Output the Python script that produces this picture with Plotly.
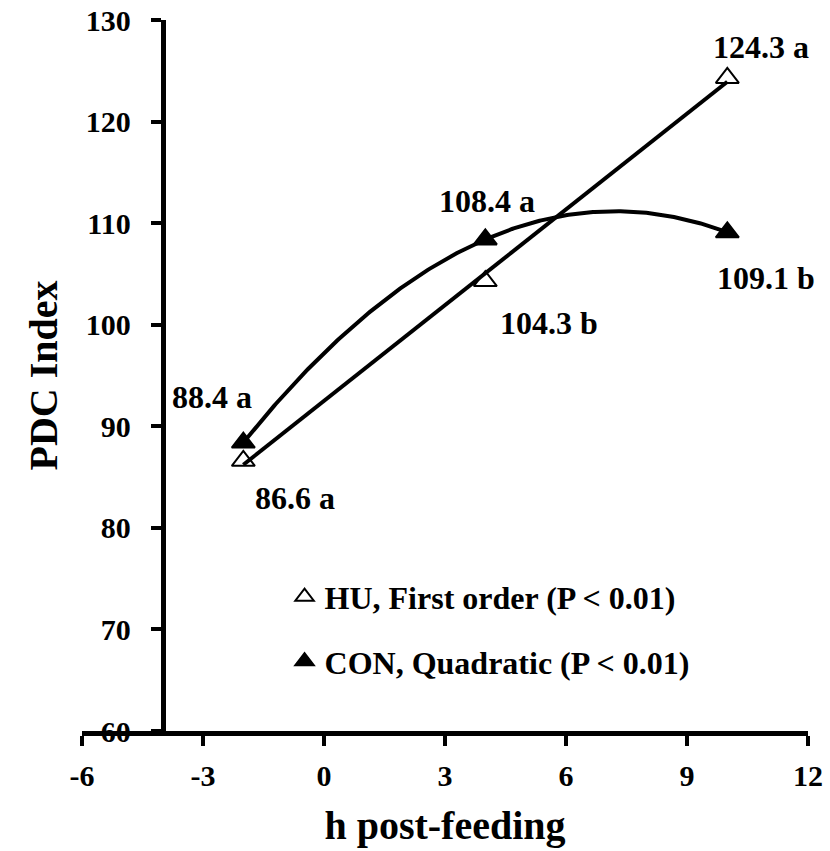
import numpy as np
import plotly.graph_objects as go

# ---- data ----
hours = [-2, 4, 10]
hu_values = [86.6, 104.3, 124.3]
con_values = [88.4, 108.4, 109.1]
hu_labels = ["86.6 a", "104.3 b", "124.3 a"]
con_labels = ["88.4 a", "108.4 a", "109.1 b"]
x_ticks = [-6, -3, 0, 3, 6, 9, 12]
y_ticks = [60, 70, 80, 90, 100, 110, 120, 130]
hu_legend = "HU, First order (P &lt; 0.01)"
con_legend = "CON, Quadratic (P &lt; 0.01)"

FONT = "Liberation Serif"

# trendlines (first-order for HU, quadratic for CON), fitted from the data
hu_fit = np.poly1d(np.polyfit(hours, hu_values, 1))
con_fit = np.poly1d(np.polyfit(hours, con_values, 2))
xs = np.linspace(min(hours), max(hours), 300)

fig = go.Figure()

fig.add_trace(go.Scatter(
    x=hours, y=con_values, mode="markers", name=con_legend,
    legendgroup="con", legendrank=2,
    marker=dict(symbol="triangle-up", size=20, color="black",
                line=dict(color="black", width=2))))
fig.add_trace(go.Scatter(
    x=hours, y=hu_values, mode="markers", name=hu_legend,
    legendgroup="hu", legendrank=1,
    marker=dict(symbol="triangle-up", size=20, color="white",
                line=dict(color="black", width=2))))
fig.add_trace(go.Scatter(
    x=xs, y=hu_fit(xs), mode="lines", line=dict(color="black", width=4),
    showlegend=False, hoverinfo="skip"))
fig.add_trace(go.Scatter(
    x=xs, y=con_fit(xs), mode="lines", line=dict(color="black", width=4),
    showlegend=False, hoverinfo="skip"))

label_font = dict(family=FONT, size=32, color="black", weight="bold")

# label offsets (pixels) relative to each point
hu_offsets = [(52, -37), (64, -42), (34, 31)]
con_offsets = [(-31, 46), (2, 38), (39, -46)]

annotations = []
for x, y, t, (dx, dy) in zip(hours, hu_values, hu_labels, hu_offsets):
    annotations.append(dict(x=x, y=y, xref="x", yref="y", text=t, showarrow=False,
                            xshift=dx, yshift=dy, font=label_font))
for x, y, t, (dx, dy) in zip(hours, con_values, con_labels, con_offsets):
    annotations.append(dict(x=x, y=y, xref="x", yref="y", text=t, showarrow=False,
                            xshift=dx, yshift=dy, font=label_font))

tick_font = dict(family=FONT, size=30, color="black", weight="bold")
title_font = dict(family=FONT, size=40, color="black", weight="bold")

fig.update_layout(
    width=830, height=851,
    margin=dict(l=82, r=22, t=20, b=120, autoexpand=False),
    paper_bgcolor="white", plot_bgcolor="white",
    annotations=annotations,
    showlegend=True,
    legend=dict(x=0.279, y=0.143, xanchor="left", yanchor="middle",
                font=label_font, bgcolor="rgba(0,0,0,0)",
                tracegroupgap=20, itemsizing="trace"),
    xaxis=dict(
        range=[-6, 12], tickvals=x_ticks, ticktext=[str(v) for v in x_ticks],
        automargin=False,
        showgrid=False, zeroline=False, showline=True, linecolor="black", linewidth=5,
        ticks="outside", ticklen=10, tickwidth=4, tickcolor="black",
        tickfont=tick_font, ticklabelstandoff=4,
        title=dict(text="h post-feeding", font=title_font, standoff=21),
    ),
    yaxis=dict(
        range=[60, 130], tickvals=y_ticks, ticktext=[str(v) for v in y_ticks],
        anchor="free", position=1 / 9, automargin=False,
        showgrid=False, zeroline=False, showline=True, linecolor="black", linewidth=5,
        ticks="outside", ticklen=10, tickwidth=4, tickcolor="black",
        tickfont=tick_font, ticklabelstandoff=14,
        title=dict(text="PDC Index", font=title_font, standoff=14),
    ),
)

fig.write_html("out.html")
